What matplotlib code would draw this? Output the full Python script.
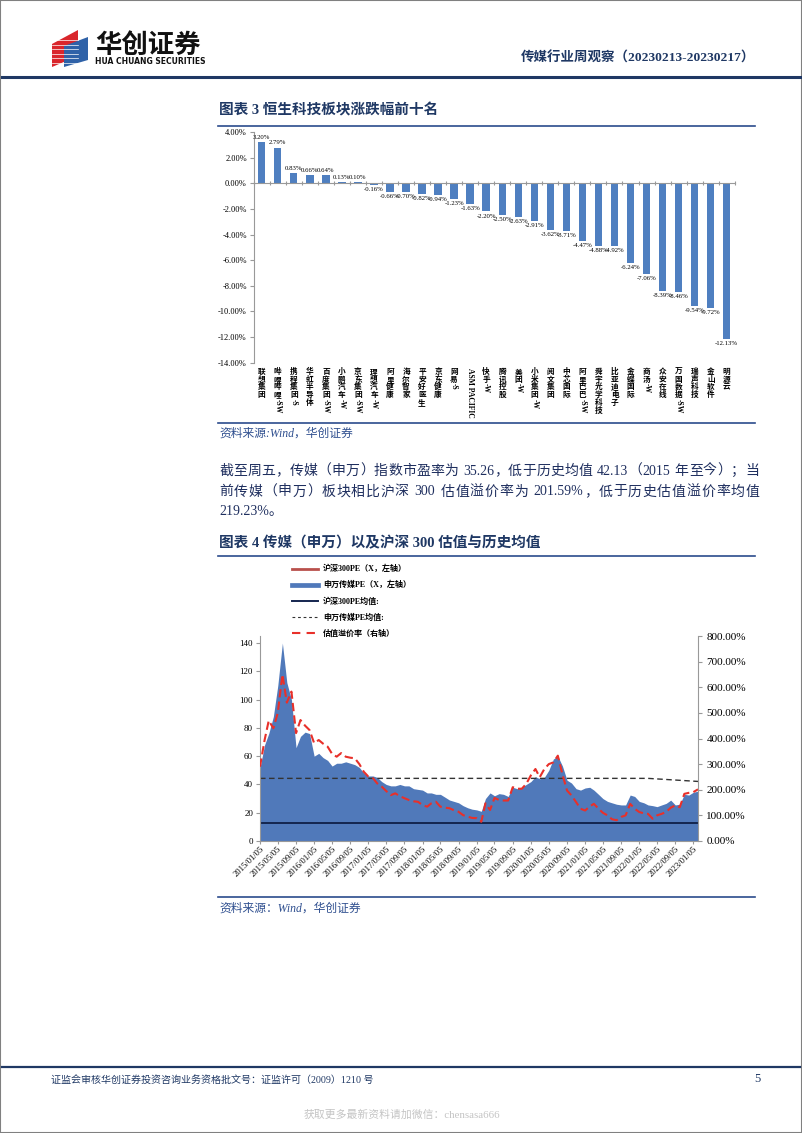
import re
import matplotlib
matplotlib.use('Agg')
import matplotlib.pyplot as plt
import matplotlib.dates as mdates
import matplotlib.transforms as mtransforms
from matplotlib.lines import Line2D
from matplotlib.patches import Polygon, Rectangle
import pandas as pd

W, H = 802, 1133
plt.rcParams['font.family'] = ['Liberation Serif', 'Noto Sans CJK SC']
plt.rcParams['axes.unicode_minus'] = False

# 图表3 数据
stocks = ['联想集团', '哔哩哔哩-SW', '携程集团-S', '华虹半导体', '百度集团-SW', '小鹏汽车-W',
          '京东集团-SW', '理想汽车-W', '阿里健康', '海尔智家', '平安好医生', '京东健康', '网易-S',
          'ASM PACIFIC', '快手-W', '腾讯控股', '美团-W', '小米集团-W', '阅文集团', '中芯国际',
          '阿里巴巴-SW', '舜宇光学科技', '比亚迪电子', '金蝶国际', '商汤-W', '众安在线',
          '万国数据-SW', '瑞声科技', '金山软件', '明源云']
changes = [3.20, 2.79, 0.83, 0.66, 0.64, 0.13, 0.10, -0.16, -0.66, -0.70, -0.82, -0.94, -1.23,
           -1.63, -2.20, -2.50, -2.63, -2.91, -3.62, -3.71, -4.47, -4.88, -4.92, -6.24, -7.06,
           -8.39, -8.46, -9.54, -9.72, -12.13]

# 图表4 数据（月度，2015-01 至 2023-02）
months = pd.date_range('2015-01-05', periods=98, freq=pd.DateOffset(months=1))
media_pe = [52, 68, 76, 88, 110, 140, 112, 100, 66, 74, 77, 76,
            60, 62, 59, 57, 53, 55, 55, 56, 55, 54, 52, 48,
            46, 46, 45, 42, 40, 39, 39, 40, 39, 39, 37, 36.5,
            36, 34, 34, 33, 33, 31, 29, 28, 27, 25, 23.5, 22.5,
            22, 21, 30, 34, 32, 33.5, 33, 31.5, 38, 37, 38, 40,
            42, 45.5, 44, 45, 50, 58, 60, 53, 43, 41, 37, 36,
            37.5, 38, 36, 33, 30, 28, 27, 26, 25.5, 25.5, 32.5, 31.5,
            28, 27, 25.5, 25, 24.3, 25.5, 26.6, 28.9, 25.5, 26, 33, 32.5,
            34.5, 35.26]
csi_pe = [13, 14, 15, 17, 18, 19, 17, 14, 12, 13, 13, 14,
          12, 12, 12.5, 12.5, 12.3, 12.5, 12.5, 12.7, 12.8, 12.8, 13, 12.8,
          13, 13.3, 13.5, 13.6, 13.7, 14, 14.3, 14.5, 14.8, 15, 15, 15,
          15.5, 14.5, 14, 13.7, 13.5, 12.5, 12, 11.8, 11.6, 11, 10.8, 10.5,
          10.5, 12, 12.8, 13.5, 12.5, 12.8, 12.7, 12.5, 12.6, 12.5, 12.7, 13.2,
          13.3, 13, 12, 12.3, 12.5, 13.5, 14.8, 15, 14.5, 15, 15.6, 16,
          17, 17.5, 15.5, 15, 15, 14.5, 13.5, 13.5, 13.5, 13, 13, 13,
          12.8, 12.5, 12, 11.2, 11.5, 12, 12, 11.8, 11, 10.5, 11.5, 11.5,
          11.8, 11.7]
premium = [290, 394, 470, 440, 500, 650, 540, 583, 421, 472, 450, 433,
           382, 394, 380, 368, 340, 329, 343, 329, 325, 323, 300, 270,
           251, 245, 225, 212, 195, 179, 186, 175, 167, 160, 155, 153,
           140, 134, 147, 153, 134, 130, 128, 120, 114, 101, 95, 90,
           89, 75, 147, 121, 168, 160, 158, 158, 210, 204, 204, 223,
           256, 281, 249, 281, 300, 307, 333, 260, 197, 178, 152, 126,
           119, 135, 145, 126, 110, 100, 85, 81, 94, 100, 145, 126,
           113, 108, 106, 87, 100, 106, 113, 130, 139, 132, 184, 188,
           191, 201.59]
csi_pe_mean = 12.7
media_mean_dates = ['2015-01-05', '2022-03-05', '2023-02-05']
media_mean = [44.3, 44.3, 42.13]
tick_dates = pd.date_range('2015-01-05', '2023-01-05', freq=pd.DateOffset(months=4))

NAVY = '#1F3864'
LINE = '#2B4C8C'
GRAY = '#999999'
BODY = '#1F2F5F'

fig = plt.figure(figsize=(W / 100, H / 100), dpi=100)
renderer = fig.canvas.get_renderer()


def fx(x):
    return x / W


def fy(y):
    return 1 - y / H


def text(x, y, s, **kw):
    return fig.text(fx(x), fy(y), s, **kw)


def hline(x0, x1, y, **kw):
    fig.add_artist(Line2D([fx(x0), fx(x1)], [fy(y), fy(y)], **kw))


def poly(pts, **kw):
    fig.add_artist(Polygon([(fx(a), fy(b)) for a, b in pts], closed=True,
                           transform=fig.transFigure, **kw))


def justify(x0, x1, y, line, **kw):
    # 两端对齐：汉字逐字、数字串整体，空格保留固定宽度，余量平均分到每个间隔
    tokens = re.findall(r'[A-Za-z0-9.%]+| |.', line)
    objs, widths = [], []
    for t in tokens:
        if t == ' ':
            objs.append(None)
            widths.append(4.0)
        else:
            o = text(x0, y, t, **kw)
            objs.append(o)
            widths.append(o.get_window_extent(renderer).width)
    gap = (x1 - x0 - sum(widths)) / (len(tokens) - 1)
    x = x0
    for o, w in zip(objs, widths):
        if o is not None:
            o.set_x(fx(x))
        x += w + gap


# 页面边框、页眉
fig.add_artist(Rectangle((0, 0), 1, 1, transform=fig.transFigure, fill=False,
                         edgecolor='#808080', lw=1.5))
poly([(52, 44), (78, 30), (78, 56), (52, 67)], color='#D9262C', lw=0)
for k in range(6):
    hline(52, 78, 40 + k * 4.5, color='white', lw=0.5)
poly([(64, 46), (88, 37), (88, 60), (64, 67)], color='#2F62A8', lw=0)
text(95, 45, '华创证券', fontsize=19, fontweight='bold', family=['Noto Sans CJK SC'],
     va='center', color='#111111')
text(95, 61, 'HUA CHUANG SECURITIES', fontsize=5.5, fontweight='bold',
     family=['DejaVu Sans'], va='center', color='#111111')
text(755, 58, '传媒行业周观察（20230213-20230217）', fontsize=9.7, fontweight='bold',
     ha='right', va='center', color=NAVY)
hline(2, 800, 77, color=NAVY, lw=2.2)

# 图表3 标题与框线
text(219, 110, '图表 3 恒生科技板块涨跌幅前十名', fontsize=10.5, fontweight='bold',
     va='center', color=NAVY)
hline(218, 755, 126, color=LINE, lw=1.2)
hline(218, 755, 423, color=LINE, lw=1.2)
text(219, 434, '资料来源:Wind，华创证券', fontsize=8.5, style='italic', va='center',
     color='#2F4F8F')

ax1 = fig.add_axes([fx(253.7), fy(362.7), (734.7 - 253.7) / W, (362.7 - 132) / H])
xs = range(len(stocks))
ax1.bar(xs, changes, width=0.46, color='#4F7FC0')
ax1.set_xlim(-0.5, len(stocks) - 0.5)
ax1.set_ylim(-14, 4)
ax1.set_yticks(range(-14, 5, 2))
ax1.yaxis.set_major_formatter(lambda v, p: f'{v:.2f}%')
ax1.tick_params(axis='y', labelsize=6, length=3, color=GRAY, pad=2)
for s in ['top', 'right']:
    ax1.spines[s].set_visible(False)
ax1.spines['left'].set_color(GRAY)
ax1.spines['bottom'].set_color(GRAY)
ax1.spines['bottom'].set_position(('data', 0))
ax1.set_xticks([i - 0.5 for i in range(len(stocks) + 1)])
ax1.set_xticklabels([])
ax1.tick_params(axis='x', direction='inout', length=3, color=GRAY)

for i, v in enumerate(changes):
    ax1.annotate(f'{v:.2f}%', (i, v), xytext=(0, 1.5 if v >= 0 else -1.5),
                 textcoords='offset points', ha='center',
                 va='bottom' if v >= 0 else 'top', fontsize=4.9)

# 竖排类目名
trans = mtransforms.blended_transform_factory(ax1.transData, fig.transFigure)
for i, name in enumerate(stocks):
    segs = []
    for ch in name:
        if '\u4e00' <= ch <= '\u9fff':
            segs.append(ch)
        elif segs and not ('\u4e00' <= segs[-1][0] <= '\u9fff'):
            segs[-1] += ch
        else:
            segs.append(ch)
    y = 368
    for seg in segs:
        if '\u4e00' <= seg[0] <= '\u9fff':
            ax1.text(i, fy(y), seg, transform=trans, ha='center', va='top',
                     fontsize=5.5, fontweight='bold')
            y += 7.7
        else:
            ax1.text(i, fy(y), seg, transform=trans, ha='center', va='top',
                     rotation=-90, fontsize=5.5, fontweight='bold')
            y += len(seg) * 4.4 + 1

# 正文
justify(219, 759, 471, '截至周五，传媒（申万）指数市盈率为 35.26，低于历史均值 42.13（2015 年至今）；当',
        fontsize=10, va='center', color=BODY)
justify(219, 759, 492, '前传媒（申万）板块相比沪深 300 估值溢价率为 201.59%，低于历史估值溢价率均值',
        fontsize=10, va='center', color=BODY)
text(219, 512, '219.23%。', fontsize=10, va='center', color=BODY)

# 图表4 标题与框线
text(219, 543, '图表 4 传媒（申万）以及沪深 300 估值与历史均值', fontsize=10.5,
     fontweight='bold', va='center', color=NAVY)
hline(218, 755, 556, color=LINE, lw=1.2)
hline(218, 755, 897, color=LINE, lw=1.2)
text(219, 909, '资料来源：Wind，华创证券', fontsize=8.5, style='italic', va='center',
     color='#2F4F8F')

ax2 = fig.add_axes([fx(260), fy(841), (698 - 260) / W, (841 - 636) / H])
ax2.fill_between(months, csi_pe, color='#B9504C', lw=0)
ax2.fill_between(months, media_pe, color='#5079BA', lw=0)
ax2.axhline(csi_pe_mean, color='#14254F', lw=1.4)
ax2.plot(pd.to_datetime(media_mean_dates), media_mean, color='#333333', lw=1,
         dashes=(4, 2.5))
ax2.set_ylim(0, 145)
ax2.set_yticks(range(0, 141, 20))
ax2.set_xlim(months[0], months[-1])
ax2.set_xticks(tick_dates)
ax2.xaxis.set_major_formatter(mdates.DateFormatter('%Y/%m/%d'))
ax2.tick_params(axis='y', labelsize=6.5, length=3, color=GRAY, pad=2)
ax2.tick_params(axis='x', labelsize=6.2, length=2, color=GRAY, pad=1)
plt.setp(ax2.get_xticklabels(), rotation=45, ha='right', rotation_mode='anchor')
for s in ['top', 'right']:
    ax2.spines[s].set_visible(False)
ax2.spines['left'].set_color(GRAY)
ax2.spines['bottom'].set_color(GRAY)

ax3 = ax2.twinx()
ax3.plot(months, premium, color='#E8302A', lw=1.5, dashes=(4, 2))
ax3.set_ylim(0, 800)
ax3.set_yticks(range(0, 801, 100))
ax3.yaxis.set_major_formatter(lambda v, p: f'{v:.2f}%')
ax3.tick_params(axis='y', labelsize=8, length=3, color=GRAY, pad=3)
for s in ['top', 'left', 'bottom']:
    ax3.spines[s].set_visible(False)
ax3.spines['right'].set_color(GRAY)

# 图例
legend_rows = [
    ('沪深300PE（X，左轴）', dict(color='#B9504C', lw=2)),
    ('申万传媒PE（X，左轴）', dict(color='#5079BA', lw=3.4)),
    ('沪深300PE均值:', dict(color='#14254F', lw=1.4)),
    ('申万传媒PE均值:', dict(color='#333333', lw=0.8, dashes=(2.5, 2.5))),
    ('估值溢价率（右轴）', dict(color='#E8302A', lw=1.5, dashes=(4, 3))),
]
for k, (label, style) in enumerate(legend_rows):
    y = 569 + k * 16.1
    hline(292, 318, y, **style)
    text(323, y, label, fontsize=5.8, fontweight='bold', va='center')

# 页脚
hline(2, 800, 1067, color=NAVY, lw=1.6)
text(51, 1080, '证监会审核华创证券投资咨询业务资格批文号：证监许可（2009）1210 号',
     fontsize=7.2, va='center', color=NAVY)
text(757, 1079, '5', fontsize=9, ha='center', va='center', color=NAVY)
text(402, 1115, '获取更多最新资料请加微信：chensasa666', fontsize=7.8, ha='center',
     va='center', color='#c4c4c4')

fig.savefig('out.png', dpi=100)
